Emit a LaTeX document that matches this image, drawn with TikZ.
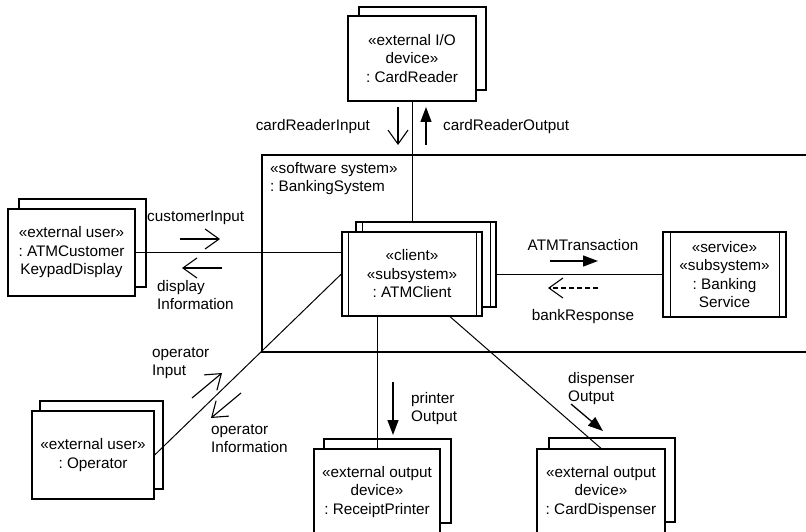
\documentclass[tikz,border=0pt]{standalone}
\usepackage{fontspec}
\setmainfont{Liberation Sans}
\usetikzlibrary{arrows.meta}
\frenchspacing
\begin{document}
\begin{tikzpicture}[x=1pt,y=-1pt,
  every node/.style={font=\fontsize{15.3}{18.5}\selectfont},
  box/.style={draw, line width=1.3pt, fill=white, inner sep=0pt, align=center},
  conn/.style={line width=1pt},
  bar/.style={line width=1.1pt},
  openarr/.style={line width=1.1pt, -{Straight Barb[length=14pt,width=20pt]}},
  dashopen/.style={line width=1.1pt, dash pattern=on 5pt off 3pt, -{Straight Barb[length=14pt,width=20pt]}},
  fillarr/.style={line width=1.3pt, -{Triangle[length=15pt,width=11pt]}},
  lbl/.style={inner sep=0pt, align=left},
]
\useasboundingbox (0,0) rectangle (806,532);
\clip (0,0) rectangle (806,532);
\fill[white] (0,0) rectangle (806,532);

% software system frame
\draw[line width=1.3pt] (810,155) -- (262,155) -- (262,352) -- (810,352);
\node[lbl, anchor=base west] (sys) at (270,191.5) {«software system»\\: BankingSystem};

% CardReader
\node[box, minimum width=127pt, minimum height=83pt] (crb) at (422.5,48.5) {};
\node[box, minimum width=128pt, minimum height=85pt] (cr) at (412,58.5) {«external I/O\\device»\\: CardReader};

% ATMClient
\node[box, minimum width=140pt, minimum height=85pt] (atmb) at (426,264.5) {};
\draw[bar] ([xshift=7]atmb.north west) -- ([xshift=7]atmb.south west);
\draw[bar] ([xshift=-6]atmb.north east) -- ([xshift=-6]atmb.south east);
\node[box, minimum width=140pt, minimum height=84pt] (atm) at (412,274) {«client»\\«subsystem»\\: ATMClient};
\draw[bar] ([xshift=7]atm.north west) -- ([xshift=7]atm.south west);
\draw[bar] ([xshift=-6]atm.north east) -- ([xshift=-6]atm.south east);

% Banking Service
\node[box, minimum width=123pt, minimum height=85pt] (bank) at (724.5,274.5) {«service»\\«subsystem»\\: Banking\\Service};
\draw[bar] ([xshift=8]bank.north west) -- ([xshift=8]bank.south west);
\draw[bar] ([xshift=-7]bank.north east) -- ([xshift=-7]bank.south east);

% ATMCustomer
\node[box, minimum width=127pt, minimum height=88pt] (custb) at (82.5,243) {};
\node[box, minimum width=127pt, minimum height=87pt] (cust) at (71.5,252.5) {«external user»\\: ATMCustomer\\KeypadDisplay};

% Operator
\node[box, minimum width=123pt, minimum height=88pt] (opb) at (101.5,445) {};
\node[box, minimum width=122pt, minimum height=88pt] (op) at (93,455) {«external user»\\: Operator};

% ReceiptPrinter
\node[box, minimum width=127pt, minimum height=84pt] (rpb) at (387.5,481) {};
\node[box, minimum width=126pt, minimum height=86pt] (rp) at (377,492) {«external output\\device»\\: ReceiptPrinter};

% CardDispenser
\node[box, minimum width=126pt, minimum height=84pt] (cdb) at (612,480) {};
\node[box, minimum width=128pt, minimum height=86pt] (cd) at (601,492) {«external output\\device»\\: CardDispenser};

% connectors
\draw[conn] (cr.south) -- (cr.south |- atmb.north);
\draw[conn] (cust.east) -- (cust.east -| atm.west);
\draw[conn] (op.east) -- (atm.west);
\draw[conn] (atmb.east |- bank.west) -- (bank.west);
\draw[conn] (rp.north |- atm.south) -- (rp.north);
\draw[conn] ([xshift=38]atm.south) -- (cd.north);

% message arrows and labels
\draw[openarr] (398,107) -- (398,145);
\draw[fillarr] (426,145) -- (426,107);
\node[lbl, anchor=base east] (lcri) at (370,131) {cardReaderInput};
\node[lbl, anchor=base west] (lcro) at (443,131) {cardReaderOutput};

\draw[openarr] (180,239) -- (220,239);
\draw[openarr] (222,268) -- (182,268);
\node[lbl, anchor=base west] (lci) at (147,221) {customerInput};
\node[lbl, anchor=base west] (ldi) at (157,309.5) {display\\Information};

\draw[fillarr] (550,261) -- (598,261);
\draw[dashopen] (598,288) -- (548,288);
\node[lbl, anchor=base] (lat) at (583,250) {ATMTransaction};
\node[lbl, anchor=base] (lbr) at (583,320) {bankResponse};

\draw[openarr] (192,398) -- (222,373);
\draw[openarr] (241,393) -- (211,418);
\node[lbl, anchor=base west] (loi) at (152,375.5) {operator\\Input};
\node[lbl, anchor=base west] (loinf) at (211,452.5) {operator\\Information};

\draw[fillarr] (393,382) -- (393,435);
\node[lbl, anchor=base west] (lpo) at (411,421.5) {printer\\Output};

\draw[fillarr] (571,404) -- (603,431);
\node[lbl, anchor=base west] (ldo) at (568,401.5) {dispenser\\Output};
\end{tikzpicture}
\end{document}
